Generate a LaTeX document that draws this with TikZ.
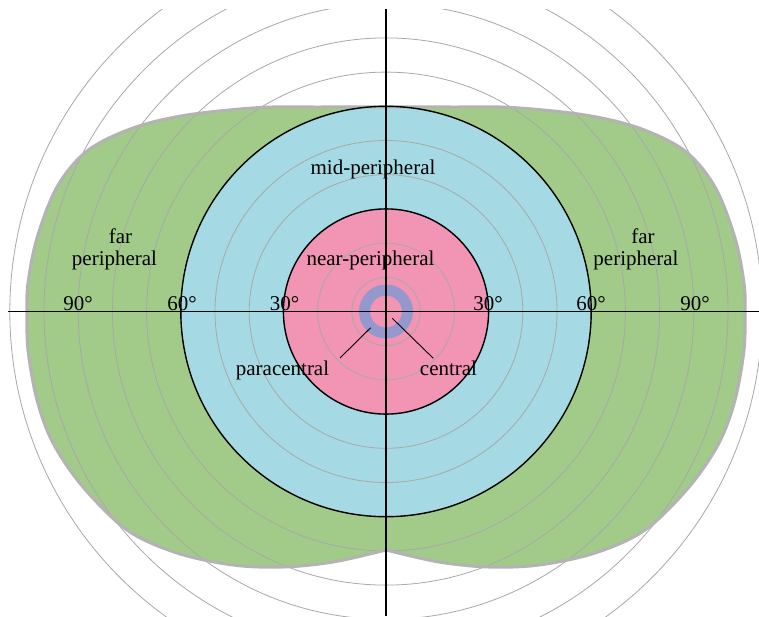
\documentclass[tikz,border=0pt]{standalone}
\usepackage{fontspec}
\setmainfont{Liberation Serif}
\definecolor{farG}{HTML}{A2CB8A}
\definecolor{midB}{HTML}{A5D9E3}
\definecolor{nearP}{HTML}{F294B4}
\definecolor{ringB}{HTML}{9498CC}
\definecolor{outlineG}{HTML}{B3B3B3}
\definecolor{gridG}{HTML}{A8A8A8}
\tikzset{
  lbl/.style={font=\fontsize{21}{22}\selectfont, inner sep=0pt, anchor=base},
  deg/.style={lbl},
  gridc/.style={draw=gridG, line width=0.8pt},
  zoneborder/.style={draw=black, line width=1.4pt},
  axis/.style={draw=black, line width=1.4pt},
  leader/.style={draw=black, line width=0.9pt}
}
\begin{document}
\begin{tikzpicture}[x=1pt,y=-1pt]
\useasboundingbox (0,0) rectangle (759,616);
\fill[white] (0,0) rectangle (759,616);
\coordinate (c) at (386,311.5);
% far peripheral (binocular field) shape
\def\fieldpath{plot[smooth, tension=0.55] coordinates {(386,107) (320,107) (260,107.5) (187,115) (133,128) (87,151) (57,187) (37,238) (28,283) (27,311) (28,350) (37,400) (53,443) (83,487) (127,530) (177,553) (233,565) (283,567) (333,562) (386,550)}
  -- plot[smooth, tension=0.55] coordinates {(386,550) (439,562) (489,567) (539,565) (595,553) (645,530) (689,487) (719,443) (735,400) (744,350) (745,311) (744,283) (735,238) (715,187) (685,151) (639,128) (585,115) (512,107.5) (452,107) (386,107)} -- cycle}
\fill[farG] \fieldpath;
% mid peripheral
\fill[midB] (c) circle[radius=205.2pt];
% near peripheral
\fill[nearP] (c) circle[radius=102.6pt];
% central ring
\draw[ringB, line width=11pt] (c) circle[radius=21.5pt];
% grid circles
\begin{scope}
\clip (0,9) rectangle (759,616);
\foreach \k in {1,...,11}{
  \draw[gridc] (c) circle[radius=\k*34.2pt];
}
\end{scope}
% outline of field
\draw[outlineG, line width=3pt] \fieldpath;
% zone borders
\draw[zoneborder] (c) circle[radius=205.2pt];
\draw[zoneborder] (c) circle[radius=102.6pt];
% axes
\coordinate (xl) at (8,311.5);
\coordinate (xr) at (759,311.5);
\coordinate (yt) at (386,9);
\coordinate (yb) at (386,616);
\draw[axis] (xl) -- (xr);
\draw[axis] (yt) -- (yb);
% degree labels
\node[deg] (dL90) at (78,310) {90°};
\node[deg] (dL60) at (182,310) {60°};
\node[deg] (dL30) at (284.5,310) {30°};
\node[deg] (dR30) at (488,310) {30°};
\node[deg] (dR60) at (591,310) {60°};
\node[deg] (dR90) at (695,310) {90°};
% zone labels
\node[lbl] (mid) at (373,174) {mid-peripheral};
\node[lbl] (near) at (370.5,265) {near-peripheral};
\node[lbl] (farL1) at (120.5,243) {far};
\node[lbl] (farL2) at (114.5,265) {peripheral};
\node[lbl] (farR1) at (643,243) {far};
\node[lbl] (farR2) at (636,265) {peripheral};
\node[lbl] (para) at (282.5,375.5) {paracentral};
\node[lbl] (cent) at (448.5,375.5) {central};
% leader lines
\coordinate (paraIn) at (370.7,327.7);
\coordinate (paraOut) at (340,358);
\coordinate (centIn) at (392.3,318.3);
\coordinate (centOut) at (433.3,358.3);
\draw[leader] (paraOut) -- (paraIn);
\draw[leader] (centIn) -- (centOut);
\end{tikzpicture}
\end{document}
